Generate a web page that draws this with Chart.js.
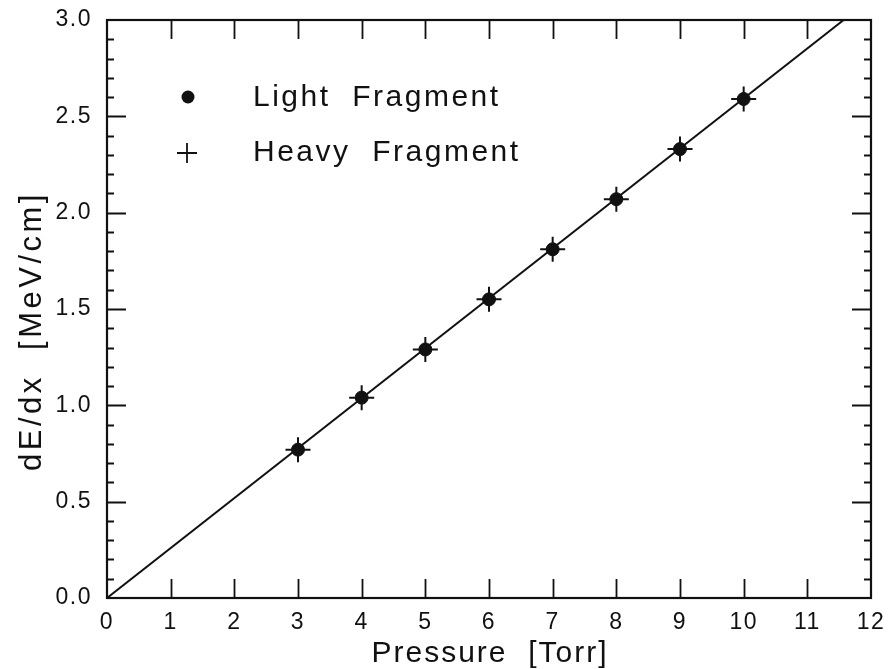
<!DOCTYPE html>
<html><head><meta charset="utf-8">
<script src="https://cdn.jsdelivr.net/npm/chart.js@4/dist/chart.umd.min.js"></script>
<style>html,body{margin:0;padding:0;background:#fff;overflow:hidden}#wrap{width:891px;height:669px;position:relative}</style>
</head><body><div id="wrap"><canvas id="c" width="891" height="669"></canvas></div>
<script>
// ---- data ----
const pressure = [3, 4, 5, 6, 7, 8, 9, 10];
const lightFragment = [0.77, 1.04, 1.29, 1.55, 1.81, 2.07, 2.33, 2.59];
const heavyFragment = [0.77, 1.04, 1.29, 1.55, 1.81, 2.07, 2.33, 2.59];
const fitLineX = [0, 11.57];
const fitLineY = [0.0, 3.0];
const xTickLabels = ['0','1','2','3','4','5','6','7','8','9','10','11','12'];
const yTickLabels = ['0.0','0.5','1.0','1.5','2.0','2.5','3.0'];
const yMinorStep = 0.1;
const xTitle = 'Pressure  [Torr]';
const yTitle = 'dE/dx  [MeV/cm]';
const seriesNames = ['Light  Fragment', 'Heavy  Fragment'];

const FONT = '"Liberation Sans", Arial, Helvetica, sans-serif';
const INK = '#111';

const toPts = (xs, ys) => xs.map((x, i) => ({x: x, y: ys[i]}));

const framePlugin = {
  id: 'frame',
  beforeDraw(chart) {
    chart.ctx.letterSpacing = '1.5px';
  },
  afterDraw(chart) {
    const ctx = chart.ctx;
    const xs = chart.scales.x, ys = chart.scales.y;
    const L = chart.chartArea.left, R = chart.chartArea.right;
    const T = chart.chartArea.top, B = chart.chartArea.bottom;
    ctx.save();
    ctx.strokeStyle = INK;
    ctx.lineWidth = 2.2;
    ctx.strokeRect(L, T, R - L, B - T);
    ctx.lineWidth = 1.8;
    ctx.beginPath();
    // x major ticks (bottom and top, inward)
    for (let v = xs.min + 1; v < xs.max; v++) {
      const px = Math.round(xs.getPixelForValue(v)) + 0.5;
      ctx.moveTo(px, B); ctx.lineTo(px, B - 19);
      ctx.moveTo(px, T); ctx.lineTo(px, T + 19);
    }
    // y ticks major/minor (left and right, inward)
    const n = Math.round((ys.max - ys.min) / yMinorStep);
    for (let i = 1; i < n; i++) {
      const v = ys.min + i * yMinorStep;
      const len = (i % 5 === 0) ? 19 : 7;
      const py = Math.round(ys.getPixelForValue(v)) + 0.5;
      ctx.moveTo(L, py); ctx.lineTo(L + len, py);
      ctx.moveTo(R, py); ctx.lineTo(R - len, py);
    }
    ctx.stroke();

    // axis titles
    ctx.fillStyle = INK;
    ctx.font = '30px ' + FONT;
    ctx.letterSpacing = '2px';
    ctx.textAlign = 'center';
    ctx.textBaseline = 'alphabetic';
    ctx.fillText(xTitle, (L + R) / 2 + 1, 662);
    ctx.save();
    ctx.translate(41, 331);
    ctx.rotate(-Math.PI / 2);
    ctx.letterSpacing = '3.5px';
    ctx.font = '31px ' + FONT;
    ctx.fillText(yTitle, 0, 0);
    ctx.restore();

    // legend
    const ds = chart.data.datasets;
    ctx.letterSpacing = '2.5px';
    ctx.font = '30px ' + FONT;
    ctx.textAlign = 'left';
    ctx.fillStyle = INK;
    // light fragment (filled circle)
    ctx.beginPath();
    ctx.arc(188, 97, 6.5, 0, Math.PI * 2);
    ctx.fill();
    ctx.fillText(ds[1].label, 253, 106);
    // heavy fragment (cross)
    ctx.lineWidth = 1.8;
    ctx.beginPath();
    ctx.moveTo(177, 153); ctx.lineTo(197, 153);
    ctx.moveTo(187, 143); ctx.lineTo(187, 163);
    ctx.stroke();
    ctx.fillText(ds[2].label, 253, 161);
    ctx.restore();
  }
};

new Chart(document.getElementById('c'), {
  type: 'scatter',
  data: {
    datasets: [
      {
        type: 'line',
        label: 'fit',
        data: toPts(fitLineX, fitLineY),
        borderColor: INK,
        borderWidth: 2,
        pointRadius: 0,
        fill: false,
        tension: 0,
        order: 3
      },
      {
        label: seriesNames[0],
        data: toPts(pressure, lightFragment),
        pointStyle: 'circle',
        pointRadius: 6.5,
        pointBackgroundColor: INK,
        pointBorderColor: INK,
        pointBorderWidth: 1,
        order: 2
      },
      {
        label: seriesNames[1],
        data: toPts(pressure, heavyFragment),
        pointStyle: 'cross',
        pointRadius: 12.5,
        pointBorderColor: INK,
        pointBorderWidth: 2,
        order: 1
      }
    ]
  },
  options: {
    responsive: false,
    animation: false,
    devicePixelRatio: 1,
    layout: { padding: { top: 20, right: 20, left: 0, bottom: 0 } },
    plugins: { legend: { display: false }, tooltip: { enabled: false } },
    scales: {
      x: {
        type: 'linear', min: 0, max: 12,
        afterFit(s) { s.height = 71; s.paddingLeft = 0; s.paddingRight = 0; },
        grid: { display: false, drawTicks: false },
        border: { display: false },
        ticks: {
          stepSize: 1, padding: 11, color: INK,
          font: { family: FONT, size: 23 },
          maxRotation: 0, autoSkip: false,
          callback: (v) => xTickLabels[Math.round(v)]
        }
      },
      y: {
        type: 'linear', min: 0, max: 3,
        afterFit(s) { s.width = 107; s.paddingTop = 0; s.paddingBottom = 0; },
        grid: { display: false, drawTicks: false },
        border: { display: false },
        ticks: {
          stepSize: 0.5, padding: 15, color: INK,
          font: { family: FONT, size: 23 },
          autoSkip: false,
          callback: (v) => yTickLabels[Math.round(v / 0.5)]
        }
      }
    }
  },
  plugins: [framePlugin]
});
</script>
</body></html>
